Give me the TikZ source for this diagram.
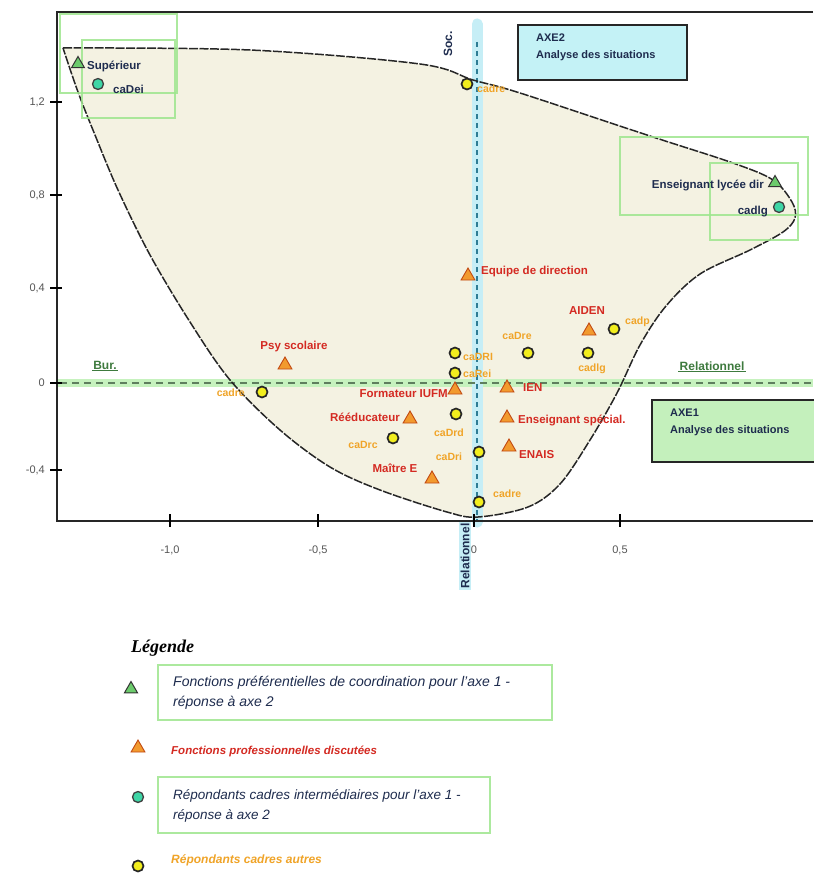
\documentclass[tikz,border=0pt]{standalone}
\usepackage{fontspec}
\setmainfont{Liberation Sans}
\newfontfamily\legserif{Liberation Serif}
\usetikzlibrary{shapes.geometric}

\definecolor{hullfill}{HTML}{F4F2E2}
\definecolor{hullline}{HTML}{262626}
\definecolor{labred}{HTML}{D42A22}
\definecolor{laborange}{HTML}{F0A428}
\definecolor{navytxt}{HTML}{1E2C4E}
\definecolor{axgreen}{HTML}{3E7A3E}
\definecolor{bandgreen}{HTML}{C6F2BE}
\definecolor{bandcyan}{HTML}{C6EEF6}
\definecolor{dashteal}{HTML}{2E7C94}
\definecolor{dashgreen}{HTML}{5E7E5E}
\definecolor{hilite}{HTML}{9EE68E}
\definecolor{axebleu}{HTML}{C4F2F6}
\definecolor{axevert}{HTML}{C4F0BC}
\definecolor{tricolor}{HTML}{F29A2E}
\definecolor{triedge}{HTML}{C24A12}
\definecolor{greentri}{HTML}{6CCB6C}
\definecolor{tealdot}{HTML}{3ED6A6}
\definecolor{yeldot}{HTML}{F2EE1E}
\definecolor{tickgray}{HTML}{555555}

\tikzset{
  lab/.style={font=\fontsize{11.5}{12}\selectfont\bfseries, inner sep=1pt},
  redlab/.style={lab, text=labred},
  orlab/.style={lab, text=laborange, font=\fontsize{10.5}{11}\selectfont\bfseries},
  navlab/.style={lab, text=navytxt},
  otri/.style={regular polygon, regular polygon sides=3, minimum size=16pt,
    inner sep=0pt, fill=tricolor, draw=triedge, line width=0.9pt},
  gtri/.style={regular polygon, regular polygon sides=3, minimum size=15pt,
    inner sep=0pt, fill=greentri, draw=black!80, line width=1pt},
  ydot/.style={circle, fill=yeldot, draw=black!85, line width=1.7pt,
    minimum size=11pt, inner sep=0pt},
  tdot/.style={circle, fill=tealdot, draw=black!75, line width=1.3pt,
    minimum size=11pt, inner sep=0pt},
  ticklab/.style={font=\fontsize{11}{12}\selectfont, text=tickgray, inner sep=1pt},
  hibox/.style={draw=hilite, line width=2.4pt, opacity=0.85},
  axeframe/.style={draw=black!85, line width=2pt},
  axetext/.style={align=left, inner sep=0pt,
    font=\fontsize{11}{17}\selectfont\bfseries, text=navytxt, anchor=north west},
  legtext/.style={font=\fontsize{14}{20}\selectfont\itshape, align=left,
    anchor=west, inner sep=1pt},
  axname/.style={font=\fontsize{12}{13}\selectfont\bfseries, inner sep=1pt},
  hullshape/.style={smooth, tension=0.55}
}

\begin{document}
\begin{tikzpicture}[x=1pt, y=-1pt]
\useasboundingbox (0,0) rectangle (813,877);
\fill[white] (0,0) rectangle (813,877);

% convex hull of the points (sharp corner at the upper left)
\def\hullpts{(63,48) (250,50) (420,64) (473,80) (520,93) (653,137) (733,163)
  (773,180) (792,202) (795,218) (783,232) (750,250) (700,274) (666,306)
  (640,345) (617,393) (590,440) (560,484) (528,507) (478,517) (447,512)
  (380,490) (330,467) (280,430) (230,380) (190,322) (150,255) (118,190)
  (95,135) (78,92) (63,48)}
\fill[hullfill] plot[hullshape] coordinates {\hullpts} -- cycle;

% axis bands and dashed zero lines
\draw[bandgreen, line width=8pt] (57,383) -- (813,383);
\draw[bandcyan, line width=11pt, line cap=round] (477,24) -- (477,522);
\draw[dashgreen, line width=2.6pt, dash pattern=on 7pt off 5pt] (60,383) -- (813,383);
\draw[dashteal, line width=1.8pt, dash pattern=on 5pt off 4pt] (477,42) -- (477,520);

% hull outline
\draw[hullline, line width=1.5pt, dash pattern=on 9pt off 1.5pt]
  plot[hullshape] coordinates {\hullpts};

% frame
\draw[black!85, line width=1.6pt] (813,12) -- (57,12) -- (57,521) -- (813,521);

% y ticks
\foreach \yy/\tt/\nm in {102/{1,2}/ya, 195/{0,8}/yb, 288/{0,4}/yc, 383/{0}/yd, 470/{-0,4}/ye}{
  \draw[black, line width=2pt] (50,\yy) -- (62,\yy);
  \node[ticklab, anchor=east] (\nm) at (46,\yy) {\tt};
}
% x ticks
\foreach \xx/\tt/\nm in {170/{-1,0}/xa, 318/{-0,5}/xb, 474/{0}/xc, 620/{0,5}/xd}{
  \draw[black, line width=1.6pt] (\xx,514) -- (\xx,527);
  \node[ticklab] (\nm) at (\xx,550) {\tt};
}

% axis names
\node[axname, text=navytxt, rotate=90] (soc) at (448,44) {Soc.};
\node[axname, text=navytxt, rotate=90, fill=bandcyan, inner sep=2pt] (relv) at (465,556) {Relationnel};
\node[axname, text=axgreen] (bur) at (105,365) {Bur.};
\draw[axgreen, line width=1.3pt] (bur.south west) -- (bur.south east);
\node[axname, text=axgreen] (relh) at (712,366) {Relationnel};
\draw[axgreen, line width=1.3pt] (relh.south west) -- (relh.south east);

% axis boxes
\draw[axeframe, fill=axebleu] (518,25) rectangle (687,80);
\node[axetext] (axe2) at (536,34) {AXE2\\Analyse des situations};
\draw[axeframe, fill=axevert] (652,400) rectangle (822,462);
\node[axetext] (axe1) at (670,409) {AXE1\\Analyse des situations};

% highlight frames
\draw[hibox] (60,14) rectangle (177,93);
\draw[hibox] (82,40) rectangle (175,118);
\draw[hibox] (620,137) rectangle (808,215);
\draw[hibox] (710,163) rectangle (798,240);

% preferred functions (green triangles)
\node[gtri] (sup) at (78,64) {};
\node[navlab, anchor=west] (suplab) at (86,66) {Supérieur};
\node[gtri] (ens1) at (775,183) {};
\node[navlab, anchor=east] (ens1lab) at (765,186) {Enseignant lycée dir};

% intermediate respondents (teal dots)
\node[tdot] (c1) at (98,84) {};
\node[navlab, anchor=west] (c1lab) at (112,89) {caDei};
\node[tdot] (c2) at (779,207) {};
\node[navlab, anchor=east] (c2lab) at (769,212) {cadlg};

% discussed functions (orange triangles)
\node[otri] (eqd) at (468,276) {};
\node[redlab, anchor=west] (eqdlab) at (480,272) {Equipe de direction};
\node[otri] (aiden) at (589,331) {};
\node[redlab] (aidenlab) at (587,311) {AIDEN};
\node[otri] (psy) at (285,365) {};
\node[redlab] (psylab) at (294,347) {Psy scolaire};
\node[otri] (iufm) at (455,390) {};
\node[redlab, anchor=east] (iufmlab) at (449,394) {Formateur IUFM};
\node[otri] (reed) at (410,419) {};
\node[redlab, anchor=east] (reedlab) at (401,417) {Rééducateur};
\node[otri] (mE) at (432,479) {};
\node[redlab] (mElab) at (395,468) {Maître E};
\node[otri] (ien) at (507,388) {};
\node[redlab, anchor=west] (ienlab) at (522,388) {IEN};
\node[otri] (ensp) at (507,418) {};
\node[redlab, anchor=west] (ensplab) at (517,420) {Enseignant spécial.};
\node[otri] (enais) at (509,447) {};
\node[redlab, anchor=west] (enaislab) at (518,455) {ENAIS};

% other respondents (yellow dots)
\node[ydot] (d1) at (467,84) {};
\node[orlab, anchor=west] (d1lab) at (476,89) {cadre};
\node[ydot] (d2) at (455,353) {};
\node[orlab, anchor=west] (d2lab) at (462,357) {caDRI};
\node[ydot] (d3) at (455,373) {};
\node[orlab, anchor=west] (d3lab) at (462,374) {caRei};
\node[ydot] (d4) at (528,353) {};
\node[orlab] (d4lab) at (517,336) {caDre};
\node[ydot] (d5) at (588,353) {};
\node[orlab] (d5lab) at (592,369) {cadlg};
\node[ydot] (d6) at (614,329) {};
\node[orlab, anchor=west] (d6lab) at (624,322) {cadp};
\node[ydot] (d7) at (262,392) {};
\node[orlab, anchor=east] (d7lab) at (246,393) {cadre};
\node[ydot] (d8) at (456,414) {};
\node[orlab] (d8lab) at (449,433) {caDrd};
\node[ydot] (d9) at (393,438) {};
\node[orlab] (d9lab) at (363,445) {caDrc};
\node[ydot] (d10) at (479,452) {};
\node[orlab] (d10lab) at (449,457) {caDri};
\node[ydot] (d11) at (479,502) {};
\node[orlab, anchor=west] (d11lab) at (492,494) {cadre};

% legend
\node[font=\legserif\fontsize{18}{20}\selectfont\itshape\bfseries, anchor=west, inner sep=0pt]
  (legtitle) at (131,648) {Légende};

\draw[hibox] (158,665) rectangle (552,720);
\node[gtri] (lg1) at (131,689) {};
\node[legtext, text=navytxt] (lg1t) at (172,693)
  {Fonctions préférentielles de coordination pour l'axe 1 -\\réponse à axe 2};

\node[otri] (lg2) at (138,748) {};
\node[legtext, text=labred, font=\fontsize{11.5}{20}\selectfont\itshape\bfseries] (lg2t) at (170,751)
  {Fonctions professionnelles discutées};

\draw[hibox] (158,777) rectangle (490,833);
\node[tdot] (lg3) at (138,797) {};
\node[legtext, text=navytxt, font=\fontsize{13.5}{20}\selectfont\itshape] (lg3t) at (172,806)
  {Répondants cadres intermédiaires pour l'axe 1 -\\réponse à axe 2};

\node[ydot] (lg4) at (138,866) {};
\node[legtext, text=laborange, font=\fontsize{12}{20}\selectfont\itshape\bfseries] (lg4t) at (170,860)
  {Répondants cadres autres};
\end{tikzpicture}
\end{document}
